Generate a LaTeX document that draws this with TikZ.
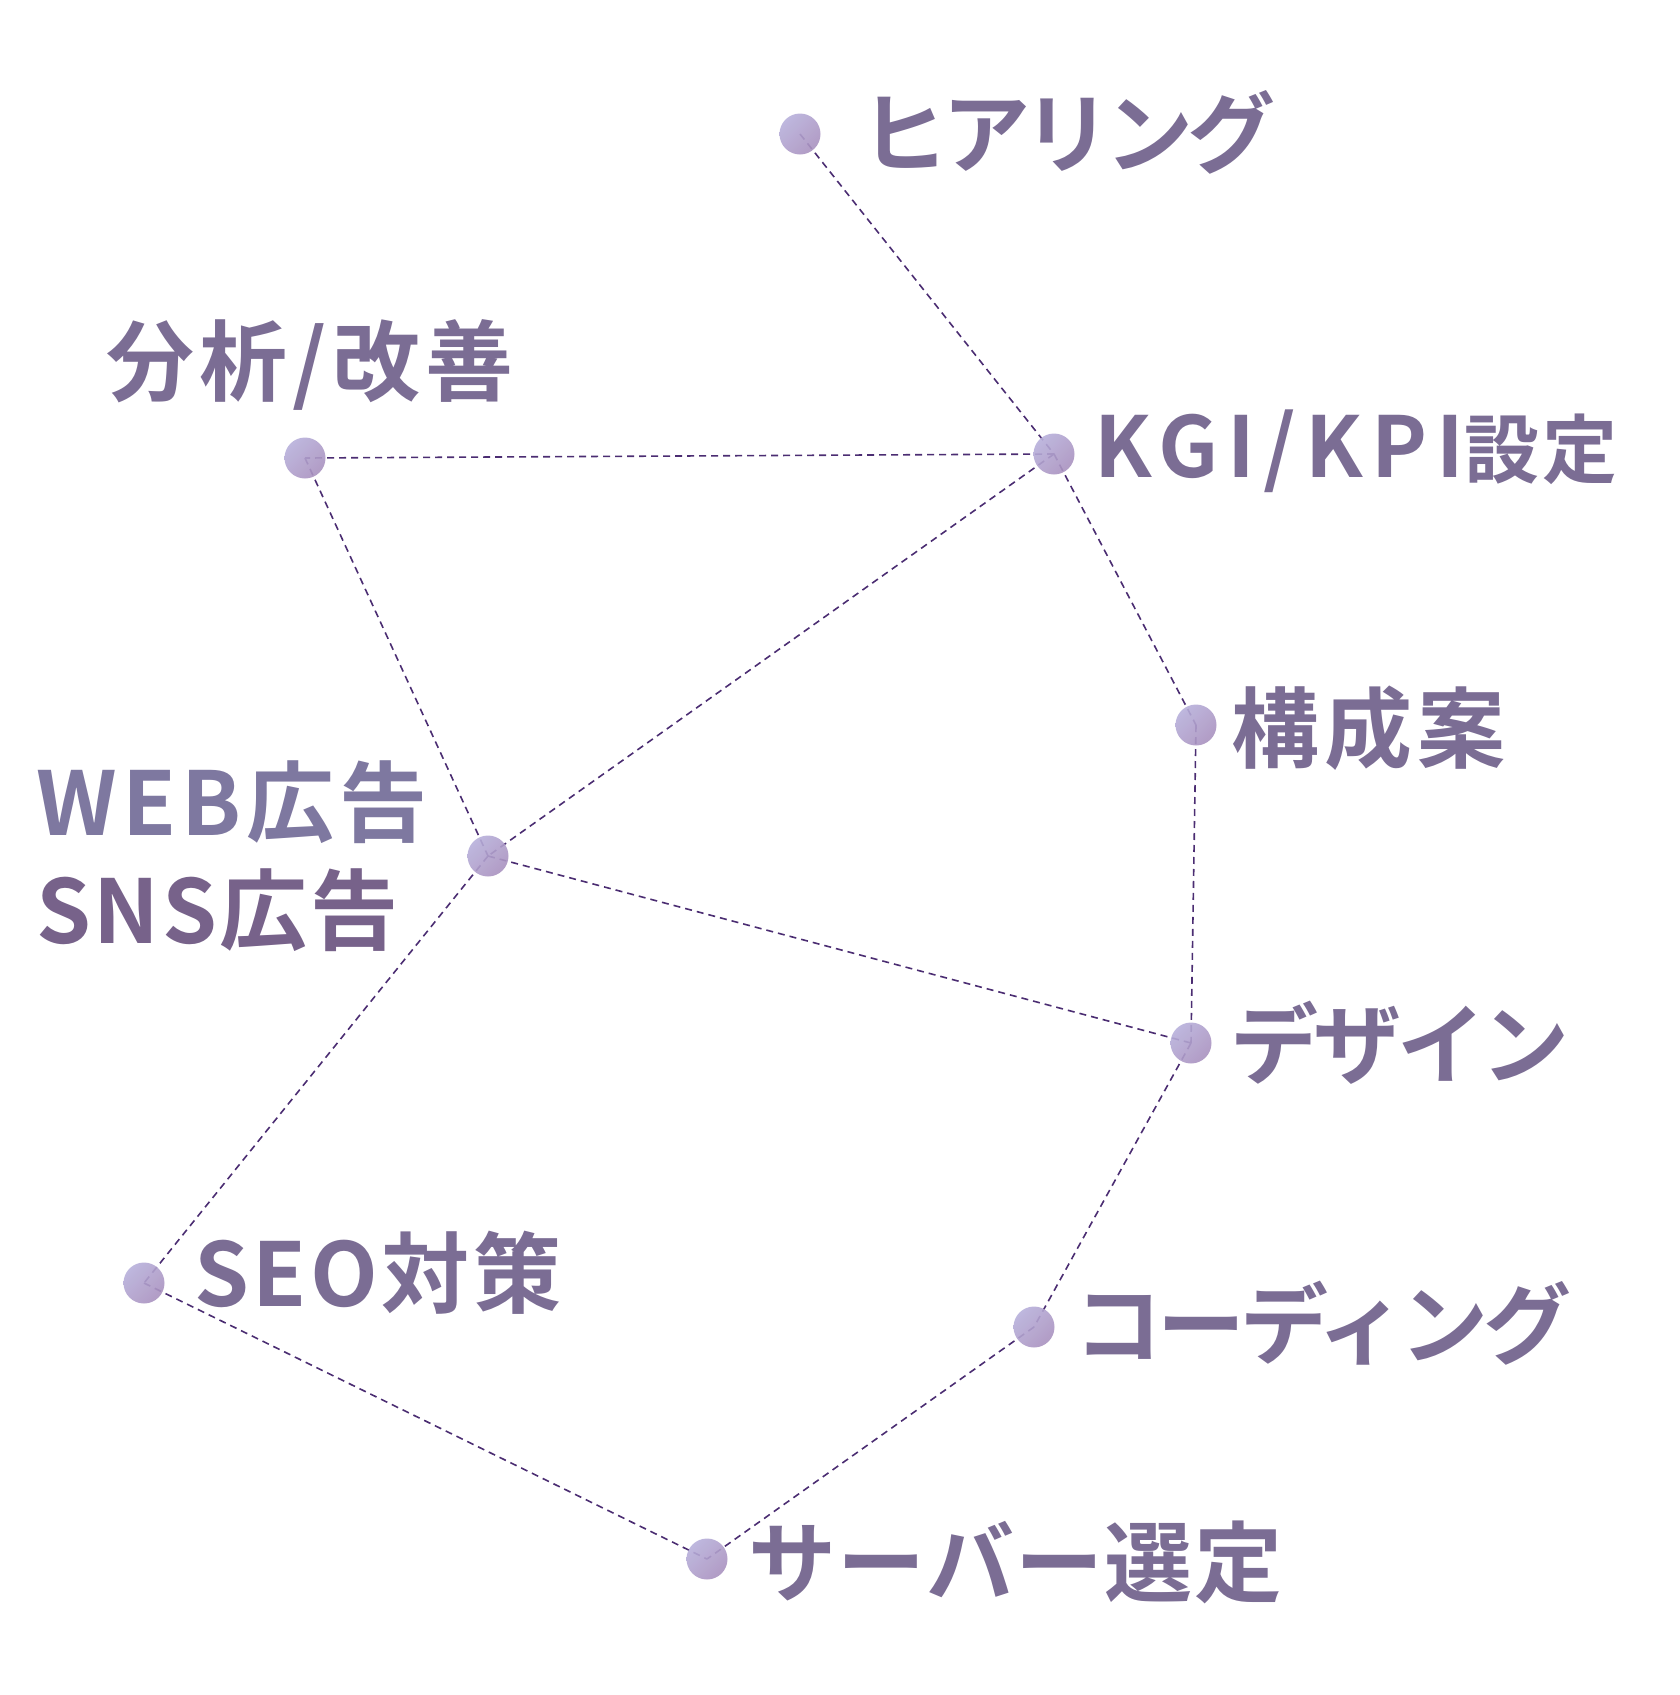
\documentclass[tikz,border=0pt]{standalone}
\usetikzlibrary{shadings}
\usepackage{fontspec}
\newfontfamily\jp[LetterSpace=6,BoldFont={Noto Sans CJK JP Bold}]{Noto Sans CJK JP}
\definecolor{linec}{HTML}{4B2D72}
\definecolor{txt}{HTML}{7B6D94}
\definecolor{txtA}{HTML}{7E78A0}
\definecolor{txtB}{HTML}{77628A}
\definecolor{dotA}{HTML}{BAB6E0}
\definecolor{dotB}{HTML}{B0A0CC}
\definecolor{dotC}{HTML}{A68BB9}
\newcommand{\lsp}[1]{\addfontfeatures{LetterSpace=#1}}
\tikzset{
  dotnode/.style={circle, minimum size=41pt, inner sep=0pt,
    upper left=dotA, upper right=dotB, lower left=dotB, lower right=dotC, fill opacity=0.9},
  conn/.style={draw=linec, line width=1.6pt, dash pattern=on 7pt off 5pt},
  lab/.style={anchor=west, inner sep=0pt, text=txt, font=\jp\bfseries\fontsize{88}{96}\selectfont},
}
\begin{document}
\begin{tikzpicture}[x=1pt,y=-1pt]
\useasboundingbox (0,0) rectangle (1680,1695);
% node positions
\coordinate (hr) at (800,134);
\coordinate (kgi) at (1054,454);
\coordinate (bun) at (305,458);
\coordinate (kou) at (1196,725);
\coordinate (web) at (488,856);
\coordinate (des) at (1191,1043);
\coordinate (seo) at (144,1283);
\coordinate (cod) at (1034,1327);
\coordinate (srv) at (707,1559);
% connectors
\draw[conn] (hr) -- (kgi);
\draw[conn] (kgi) -- (bun);
\draw[conn] (kgi) -- (web);
\draw[conn] (kgi) -- (kou);
\draw[conn] (bun) -- (web);
\draw[conn] (kou) -- (des);
\draw[conn] (web) -- (des);
\draw[conn] (web) -- (seo);
\draw[conn] (des) -- (cod);
\draw[conn] (cod) -- (srv);
\draw[conn] (seo) -- (srv);
% dots
\foreach \p in {hr,kgi,bun,kou,web,des,seo,cod,srv}
  \node[dotnode] (d\p) at (\p) {};
% labels
\node[lab] (lhr) at (860,132) {\lsp{-7}ヒアリング};
\node[lab] (lbun) at (106,365) {分析/改善};
\node[lab] (lkgi) at (1094,451) {{\fontsize{84}{90}\selectfont\lsp{10.5}KGI/KPI}{\fontsize{75}{80}\selectfont\lsp{4}設定}};
\node[lab] (lkou) at (1231,728) {構成案};
\node[lab, text=txtA] (lweb) at (36,802) {WEB広告};
\node[lab, text=txtB] (lsns) at (36,910) {\lsp{3}SNS広告};
\node[lab] (ldes) at (1230,1043) {\lsp{-5}デザイン};
\node[lab] (lseo) at (194,1273) {\lsp{4}SEO対策};
\node[lab] (lcod) at (1074,1323) {\lsp{-5.5}コーディング};
\node[lab] (lsrv) at (748,1562) {\lsp{1.6}サーバー選定};
\end{tikzpicture}
\end{document}
